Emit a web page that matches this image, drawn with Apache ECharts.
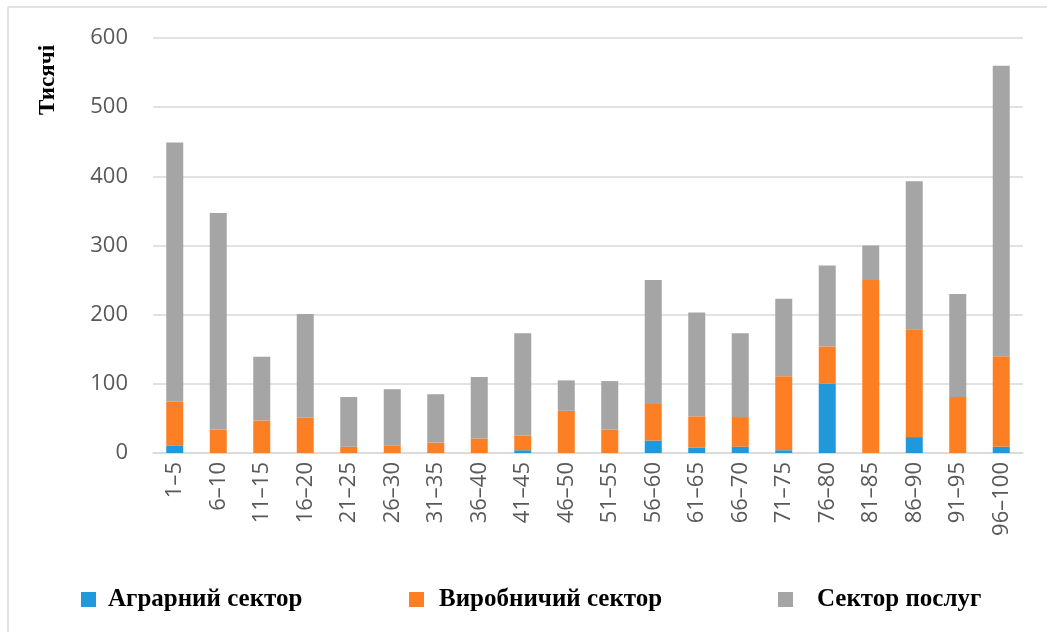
<!DOCTYPE html>
<html>
<head>
<meta charset="utf-8">
<script src="https://cdn.jsdelivr.net/npm/echarts@6/dist/echarts.min.js"></script>
<style>
  html, body { margin: 0; padding: 0; background: #ffffff; }
  #chart { width: 1047px; height: 632px; }
</style>
</head>
<body>
<div id="chart"></div>
<script>
// Age groups (years)
const categories = ['1–5', '6–10', '11–15', '16–20', '21–25', '26–30', '31–35', '36–40', '41–45', '46–50',
  '51–55', '56–60', '61–65', '66–70', '71–75', '76–80', '81–85', '86–90', '91–95', '96–100'];

// Thousands of people by sector
const agrarian   = [11, 0, 0, 0, 0, 0, 0, 0, 4, 0, 0, 18, 8, 9, 4, 100, 0, 23, 0, 9];
const industrial = [63, 34, 47, 51, 9, 11, 15, 21, 21, 61, 34, 53, 45, 43, 107, 54, 250, 156, 81, 131];
const services   = [375, 313, 92, 150, 72, 81, 70, 89, 148, 44, 70, 179, 150, 121, 112, 117, 50, 214, 149, 420];

const seriesNames = ['Аграрний сектор', 'Виробничий сектор', 'Сектор послуг'];
const yTicks = { min: 0, max: 600, interval: 100 };
const axisTitle = 'Тисячі';

const colors = ['#1f98dc', '#fd7f23', '#a5a5a5'];
const labelFont = '"Open Sans", sans-serif';
const serifFont = '"Liberation Serif", "Times New Roman", serif';

const chart = echarts.init(document.getElementById('chart'), null, { renderer: 'canvas' });

function legendFor(i, left, gap) {
  return {
    left: left,
    top: 587,
    padding: 0,
    icon: 'rect',
    itemWidth: 15,
    itemHeight: 15,
    data: [seriesNames[i]],
    selectedMode: false,
    textStyle: {
      fontFamily: serifFont,
      fontWeight: 'bold',
      fontSize: 25,
      color: '#000000',
      padding: [0, 0, 0, gap]
    }
  };
}

chart.setOption({
  animation: false,
  color: colors,
  grid: { left: 153, right: 24, top: 38, bottom: 179, containLabel: false },
  legend: [
    legendFor(0, 81, 7),
    legendFor(1, 409, 10),
    legendFor(2, 778, 19)
  ],
  graphic: [
    // frame along top and left edges
    { type: 'line', shape: { x1: 8, y1: 7, x2: 1047, y2: 7 }, style: { stroke: '#d9d9d9', lineWidth: 1.5 }, silent: true },
    { type: 'line', shape: { x1: 8, y1: 7, x2: 8, y2: 632 }, style: { stroke: '#d9d9d9', lineWidth: 1.5 }, silent: true },
    {
      type: 'text',
      x: 48,
      y: 80,
      rotation: Math.PI / 2,
      style: {
        text: axisTitle,
        fontFamily: serifFont,
        fontWeight: 'bold',
        fontSize: 23,
        fill: '#000000',
        align: 'center',
        verticalAlign: 'middle'
      }
    }
  ],
  xAxis: {
    type: 'category',
    data: categories,
    axisTick: { show: false },
    axisLine: { lineStyle: { color: '#d9d9d9', width: 1.5 } },
    axisLabel: {
      rotate: 90,
      interval: 0,
      margin: 9,
      fontFamily: labelFont,
      fontSize: 22,
      color: '#595959'
    }
  },
  yAxis: {
    type: 'value',
    min: yTicks.min,
    max: yTicks.max,
    interval: yTicks.interval,
    axisLine: { show: false },
    axisTick: { show: false },
    splitLine: { lineStyle: { color: '#d9d9d9', width: 1.5 } },
    axisLabel: {
      margin: 25,
      fontFamily: labelFont,
      fontSize: 22,
      color: '#595959'
    }
  },
  series: [
    { name: seriesNames[0], type: 'bar', stack: 'total', barWidth: 17, data: agrarian },
    { name: seriesNames[1], type: 'bar', stack: 'total', barWidth: 17, data: industrial },
    { name: seriesNames[2], type: 'bar', stack: 'total', barWidth: 17, data: services }
  ]
});
</script>
</body>
</html>
